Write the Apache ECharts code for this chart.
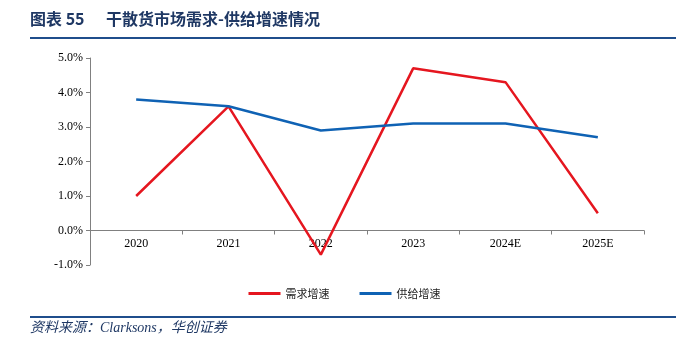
<!DOCTYPE html>
<html><head><meta charset="utf-8">
<script src="https://cdn.jsdelivr.net/npm/echarts@6/dist/echarts.min.js"></script>
<style>html,body{margin:0;padding:0;background:#fff}#c{width:689px;height:350px}</style>
</head><body><div id="c"></div>
<script>
const categories = ['2020','2021','2022','2023','2024E','2025E'];
const demandGrowth = [1.0, 3.6, -0.7, 4.7, 4.3, 0.5];
const supplyGrowth = [3.8, 3.6, 2.9, 3.1, 3.1, 2.7];
const seriesNames = ['需求增速','供给增速'];
const titleLabel = '图表 55';
const titleText = '干散货市场需求-供给增速情况';
const sourceText = '资料来源：Clarksons，华创证券';

const chart = echarts.init(document.getElementById('c'));
const serif = '"Liberation Serif","Times New Roman",serif';
chart.setOption({
  animation: false,
  backgroundColor: '#fff',
  grid: {left: 90, right: 45, top: 58, bottom: 85},
  legend: {
    data: seriesNames, bottom: 46, left: 'center', itemGap: 30,
    icon: 'rect', itemWidth: 32, itemHeight: 3,
    textStyle: {fontFamily: '"Noto Sans CJK SC",serif', fontSize: 11, color: '#222'}
  },
  graphic: [
    {type: 'text', left: 30, top: 11, style: {text: titleLabel, fill: '#1F3864', font: 'bold 16px "Noto Sans CJK SC", serif'}},
    {type: 'text', left: 106, top: 11, style: {text: titleText, fill: '#1F3864', font: 'bold 16px "Noto Sans CJK SC", serif'}},
    {type: 'rect', shape: {x: 30, y: 37, width: 646, height: 2}, style: {fill: '#1F4E8C'}},
    {type: 'rect', shape: {x: 30, y: 316, width: 646, height: 2}, style: {fill: '#1F4E8C'}},
    {type: 'text', left: 30, top: 321, style: {text: sourceText, fill: '#1F3864', font: 'italic 14px "Liberation Serif", "Noto Sans CJK SC", serif'}}
  ],
  xAxis: {
    type: 'category', data: categories, boundaryGap: true,
    axisLine: {onZero: true, lineStyle: {color: '#808080', width: 1}},
    axisTick: {show: true, inside: false, length: 4, lineStyle: {color: '#808080'}},
    axisLabel: {color: '#000', fontFamily: serif, fontSize: 12, margin: -27}
  },
  yAxis: {
    type: 'value', min: -1, max: 5, interval: 1,
    splitLine: {show: false},
    axisLine: {show: true, lineStyle: {color: '#808080'}},
    axisTick: {show: true, length: 4, lineStyle: {color: '#808080'}},
    axisLabel: {color: '#000', fontFamily: serif, fontSize: 12, margin: 7,
      formatter: v => v.toFixed(1) + '%'}
  },
  series: [
    {name: seriesNames[0], type: 'line', data: demandGrowth, symbol: 'none',
     lineStyle: {color: '#E5161F', width: 2.5}, itemStyle: {color: '#E5161F'}},
    {name: seriesNames[1], type: 'line', data: supplyGrowth, symbol: 'none',
     lineStyle: {color: '#0F62B4', width: 2.5}, itemStyle: {color: '#0F62B4'}}
  ]
});
</script></body></html>
